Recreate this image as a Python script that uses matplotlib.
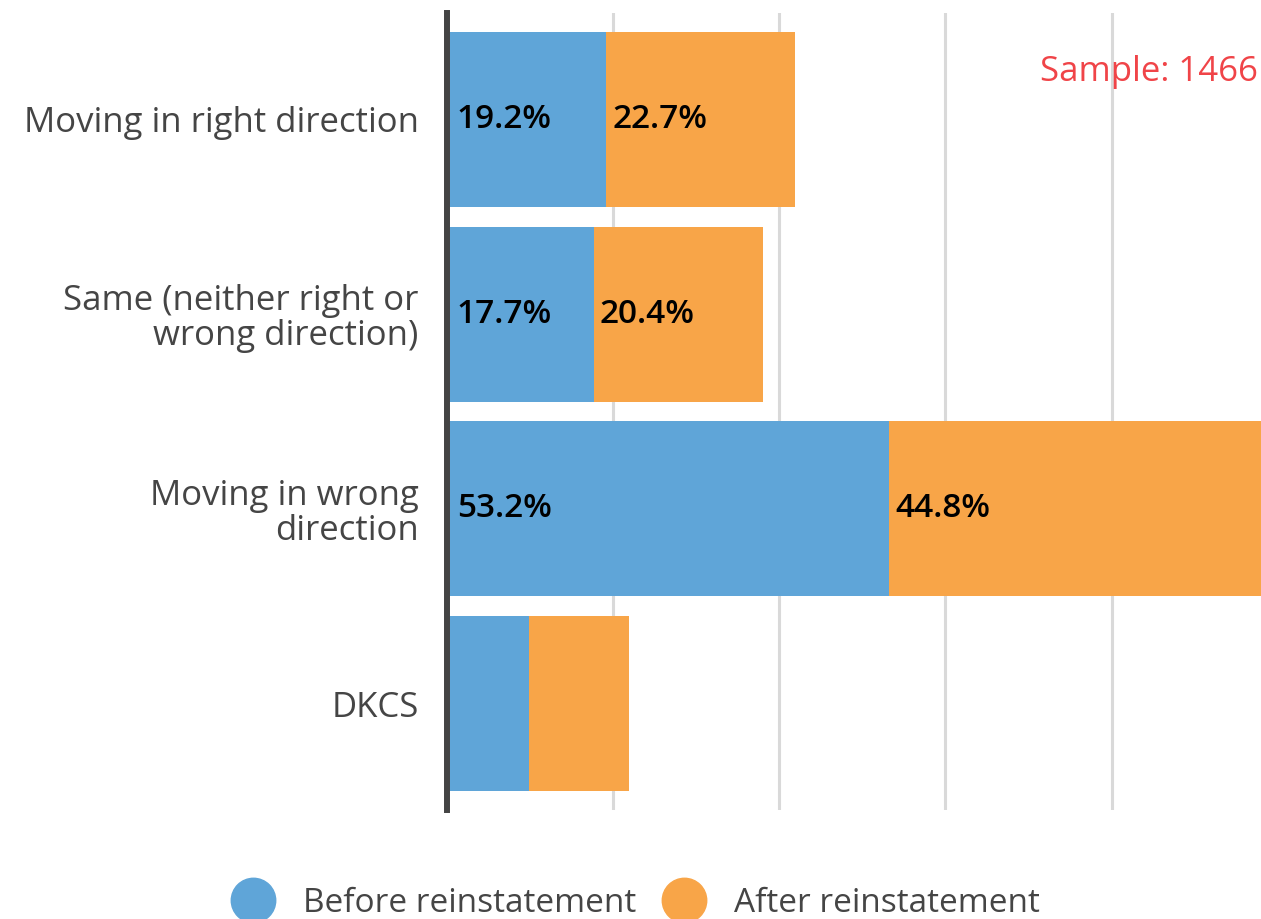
import matplotlib
matplotlib.use("Agg")
import matplotlib.pyplot as plt
from matplotlib.lines import Line2D

# data
categories = [
    "Moving in right direction",
    "Same (neither right or\nwrong direction)",
    "Moving in wrong\ndirection",
    "DKCS",
]
before = [19.2, 17.7, 53.2, 9.9]
after = [22.7, 20.4, 44.8, 12.1]
show_label = [True, True, True, False]
grid_ticks = [20, 40, 60, 80, 100]

BLUE = "#5fa5d8"
ORANGE = "#f8a548"
TEXT = "#454545"

plt.rcParams["font.family"] = ["Open Sans", "DejaVu Sans"]

W, H = 1261, 919
fig = plt.figure(figsize=(W / 100, H / 100), dpi=100)

# axes placed in pixel terms: zero at x=446, 1% = 8.316 px, plot runs y 13..810
x0, px_per = 446.5, 8.316
ax = fig.add_axes([x0 / W, 1 - 810 / H, 100 * px_per / W, (810 - 13) / H])

y = list(range(len(categories)))
ax.barh(y, before, height=0.9, color=BLUE, zorder=2)
ax.barh(y, after, left=before, height=0.9, color=ORANGE, zorder=2)

for i in y:
    if not show_label[i]:
        continue
    ax.text(1.25, i, f"{before[i]:.1f}%", va="center", ha="left",
            fontsize=24, fontweight="semibold", color="black", zorder=3)
    ax.text(before[i] + 0.75, i, f"{after[i]:.1f}%", va="center", ha="left",
            fontsize=24, fontweight="semibold", color="black", zorder=3)

ax.set_xlim(0, 100)
ax.set_ylim(3.547, -0.547)
ax.set_xticks(grid_ticks)
ax.set_xticklabels([])
ax.grid(axis="x", color="#d9d9d9", linewidth=2.2, zorder=0)
ax.tick_params(axis="both", length=0)
ax.set_yticks(y)
ax.set_yticklabels(categories, fontsize=25, color=TEXT, linespacing=1.05)
ax.tick_params(axis="y", pad=20)

for side in ["top", "right", "bottom"]:
    ax.spines[side].set_visible(False)
ax.spines["left"].set_color("#444444")
ax.spines["left"].set_linewidth(4.3)
ax.spines["left"].set_zorder(4)

fig.text(1040 / W, 1 - 72 / H, "Sample: 1466", color="#f04448", fontsize=25,
         ha="left", va="center")

handles = [
    Line2D([], [], marker="o", linestyle="none", markersize=32, color=BLUE),
    Line2D([], [], marker="o", linestyle="none", markersize=32, color=ORANGE),
]
fig.legend(handles, ["Before reinstatement", "After reinstatement"],
           loc="center", bbox_to_anchor=(638 / W, 1 - 903 / H), ncol=2,
           frameon=False, fontsize=24, labelcolor=TEXT,
           handletextpad=1.0, columnspacing=0.95, handlelength=1.0)

fig.savefig("out.png", dpi=100)
